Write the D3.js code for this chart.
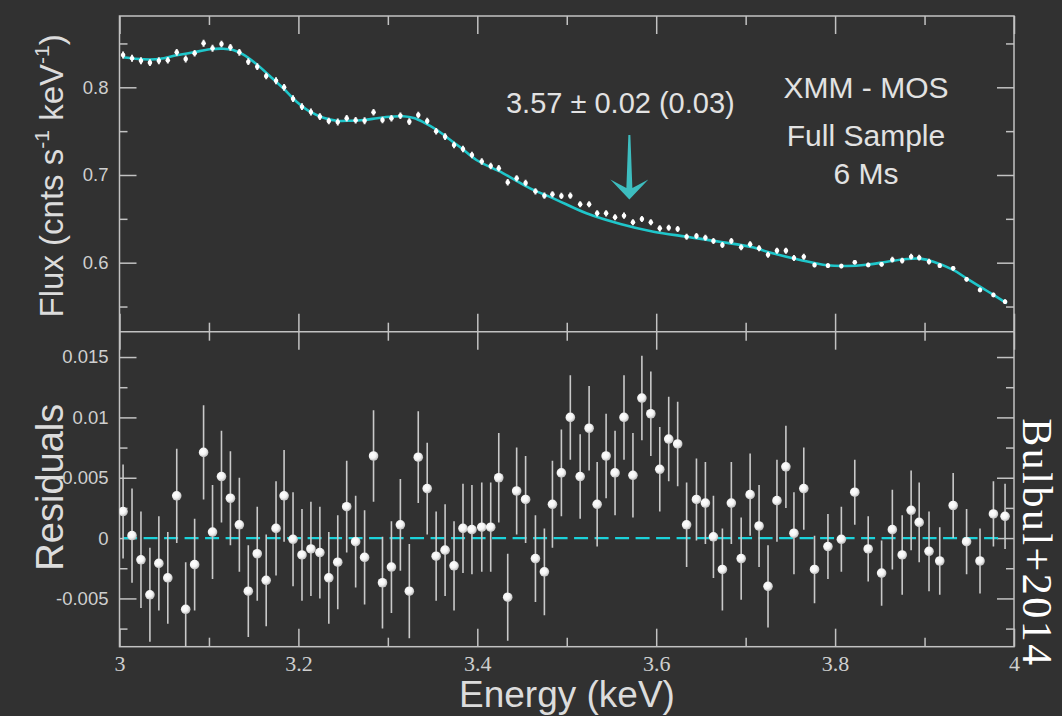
<!DOCTYPE html>
<html>
<head>
<meta charset="utf-8">
<script src="https://cdn.jsdelivr.net/npm/d3@7"></script>
<style>
html, body { margin: 0; padding: 0; background: #313131; }
svg { display: block; }
</style>
</head>
<body>
<svg id="chart"></svg>
<script>
// bin centres (keV)
var energy = [3.004, 3.014, 3.024, 3.034, 3.044, 3.054, 3.064, 3.074, 3.084, 3.094,
	3.104, 3.114, 3.124, 3.134, 3.144, 3.154, 3.164, 3.175, 3.184, 3.194,
	3.204, 3.214, 3.224, 3.234, 3.244, 3.254, 3.264, 3.274, 3.284, 3.294,
	3.304, 3.314, 3.324, 3.334, 3.344, 3.354, 3.364, 3.374, 3.384, 3.394,
	3.405, 3.415, 3.424, 3.434, 3.444, 3.454, 3.465, 3.475, 3.484, 3.494,
	3.504, 3.515, 3.525, 3.534, 3.544, 3.554, 3.564, 3.574, 3.584, 3.594,
	3.604, 3.614, 3.624, 3.634, 3.645, 3.655, 3.664, 3.674, 3.684, 3.695,
	3.705, 3.715, 3.725, 3.735, 3.745, 3.754, 3.765, 3.777, 3.792, 3.807,
	3.822, 3.837, 3.852, 3.864, 3.875, 3.885, 3.894, 3.905, 3.917, 3.932,
	3.947, 3.962, 3.977, 3.990];
// measured flux (cnts/s/keV)
var flux = [0.8368, 0.8331, 0.8303, 0.8281, 0.8303, 0.8308, 0.8399, 0.8323, 0.8388, 0.8502,
	0.8445, 0.8494, 0.8456, 0.8399, 0.8292, 0.8235, 0.8129, 0.8075, 0.8000, 0.7870,
	0.7779, 0.7718, 0.7665, 0.7616, 0.7604, 0.7647, 0.7624, 0.7619, 0.7715, 0.7627,
	0.7647, 0.7676, 0.7608, 0.7684, 0.7616, 0.7498, 0.7437, 0.7342, 0.7296, 0.7228,
	0.7154, 0.7103, 0.7076, 0.6917, 0.6962, 0.6909, 0.6814, 0.6764, 0.6780, 0.6761,
	0.6764, 0.6666, 0.6666, 0.6563, 0.6563, 0.6518, 0.6536, 0.6461, 0.6498, 0.6461,
	0.6392, 0.6399, 0.6384, 0.6296, 0.6304, 0.6285, 0.6247, 0.6202, 0.6247, 0.6176,
	0.6210, 0.6164, 0.6091, 0.6137, 0.6137, 0.6054, 0.6068, 0.5974, 0.5966, 0.5962,
	0.6005, 0.5974, 0.5982, 0.6034, 0.6023, 0.6068, 0.6057, 0.6011, 0.5966, 0.5936,
	0.5811, 0.5689, 0.5632, 0.5555];
// residuals (data - model)
var resid = [0.0022, 0.0002, -0.0018, -0.0047, -0.0021, -0.0033, 0.0035, -0.0059, -0.0022, 0.0071,
	0.0005, 0.0051, 0.0033, 0.0011, -0.0044, -0.0013, -0.0035, 0.0008, 0.0035, -0.0001,
	-0.0014, -0.0009, -0.0012, -0.0033, -0.0020, 0.0026, -0.0003, -0.0016, 0.0068, -0.0037,
	-0.0024, 0.0011, -0.0044, 0.0067, 0.0041, -0.0015, -0.0010, -0.0023, 0.0008, 0.0007,
	0.0009, 0.0009, 0.0050, -0.0049, 0.0039, 0.0032, -0.0017, -0.0028, 0.0028, 0.0054,
	0.0100, 0.0051, 0.0091, 0.0028, 0.0068, 0.0054, 0.0100, 0.0052, 0.0116, 0.0103,
	0.0057, 0.0082, 0.0078, 0.0011, 0.0032, 0.0029, 0.0001, -0.0026, 0.0029, -0.0017,
	0.0036, 0.0010, -0.0040, 0.0031, 0.0059, 0.0004, 0.0041, -0.0026, -0.0007, -0.0001,
	0.0038, -0.0009, -0.0029, 0.0007, -0.0014, 0.0023, 0.0013, -0.0011, -0.0019, 0.0027,
	-0.0003, -0.0019, 0.0020, 0.0018];
// 1 sigma errors
var err = [0.0039, 0.0039, 0.0040, 0.0039, 0.0039, 0.0038, 0.0039, 0.0039, 0.0038, 0.0039,
	0.0039, 0.0038, 0.0039, 0.0039, 0.0038, 0.0039, 0.0038, 0.0039, 0.0038, 0.0039,
	0.0038, 0.0039, 0.0038, 0.0038, 0.0039, 0.0038, 0.0038, 0.0039, 0.0038, 0.0038,
	0.0038, 0.0038, 0.0039, 0.0038, 0.0038, 0.0037, 0.0038, 0.0037, 0.0037, 0.0037,
	0.0037, 0.0037, 0.0037, 0.0036, 0.0036, 0.0036, 0.0036, 0.0036, 0.0036, 0.0036,
	0.0035, 0.0035, 0.0035, 0.0035, 0.0035, 0.0035, 0.0035, 0.0035, 0.0035, 0.0035,
	0.0035, 0.0035, 0.0035, 0.0035, 0.0034, 0.0034, 0.0034, 0.0034, 0.0034, 0.0034,
	0.0034, 0.0034, 0.0034, 0.0034, 0.0034, 0.0034, 0.0034, 0.0028, 0.0027, 0.0027,
	0.0027, 0.0027, 0.0027, 0.0033, 0.0033, 0.0033, 0.0033, 0.0033, 0.0028, 0.0027,
	0.0027, 0.0027, 0.0027, 0.0027];
// best fit model curve
var modelE = [3.004, 3.027, 3.045, 3.064, 3.083, 3.101, 3.116, 3.127, 3.138, 3.153,
	3.168, 3.183, 3.198, 3.213, 3.228, 3.243, 3.258, 3.273, 3.288, 3.302,
	3.317, 3.329, 3.340, 3.355, 3.370, 3.381, 3.399, 3.429, 3.459, 3.485,
	3.522, 3.560, 3.597, 3.634, 3.671, 3.709, 3.724, 3.761, 3.791, 3.813,
	3.835, 3.858, 3.880, 3.895, 3.910, 3.932, 3.947, 3.970, 3.992];
var modelF = [0.8342, 0.8319, 0.8323, 0.8365, 0.8399, 0.8433, 0.8440, 0.8425, 0.8376, 0.8266,
	0.8129, 0.7989, 0.7836, 0.7722, 0.7653, 0.7619, 0.7619, 0.7627, 0.7647, 0.7665,
	0.7669, 0.7650, 0.7601, 0.7513, 0.7399, 0.7316, 0.7171, 0.7019, 0.6848, 0.6734,
	0.6563, 0.6441, 0.6353, 0.6296, 0.6239, 0.6173, 0.6125, 0.6031, 0.5970, 0.5962,
	0.5977, 0.6011, 0.6042, 0.6046, 0.6011, 0.5917, 0.5822, 0.5677, 0.5537];
var lineE = 3.57;
var lineLabel = "3.57 \u00b1 0.02 (0.03)";
var infoLines = ["XMM - MOS", "Full Sample", "6 Ms"];

var xTicks = [3, 3.2, 3.4, 3.6, 3.8, 4];
var xMinor = [3.1, 3.3, 3.5, 3.7, 3.9];
var fluxTicks = [0.6, 0.7, 0.8];
var fluxMinor = [0.55, 0.65, 0.75, 0.85];
var resTicks = [-0.005, 0, 0.005, 0.01, 0.015];
var resMinor = [-0.0075, -0.0025, 0.0025, 0.0075, 0.0125];

var width = 1062, height = 716;
var padL = 119.5, padR = 1014, padT = 16, padM = 331.7, padB = 646.7;
var frameCol = "#c2c2c2", tickCol = "#cfcfcf", cyan = "#1fc6ca";

var svg = d3.select("#chart").attr("width", width).attr("height", height);
svg.append("rect").attr("width", width).attr("height", height).attr("fill", "#313131");

var defs = svg.append("defs");
defs.append("clipPath").attr("id", "clipTop").append("rect")
	.attr("x", padL).attr("y", padT).attr("width", padR - padL).attr("height", padM - padT);
defs.append("clipPath").attr("id", "clipBot").append("rect")
	.attr("x", padL).attr("y", padM).attr("width", padR - padL).attr("height", padB - padM);
var grad = defs.append("radialGradient").attr("id", "ball")
	.attr("cx", "40%").attr("cy", "38%").attr("r", "65%");
grad.append("stop").attr("offset", "0%").attr("stop-color", "#ffffff");
grad.append("stop").attr("offset", "55%").attr("stop-color", "#f4f4f4");
grad.append("stop").attr("offset", "100%").attr("stop-color", "#b8b8b8");

var x = d3.scaleLinear().domain([3, 4]).range([padL, padR]);
var yTop = d3.scaleLinear().domain([0.5213, 0.8813]).range([padM, padT]);
var yRes = d3.scaleLinear().domain([-0.009, 0.0171]).range([padB, padM]);

function styleAxis(g, font, size) {
	g.select(".domain").remove();
	g.attr("font-family", font).attr("font-size", size);
	g.selectAll("line").attr("stroke", frameCol).attr("stroke-width", 1.5);
	g.selectAll("text").attr("fill", tickCol);
}
var fmt = function(d) { return String(d); };

// x ticks
svg.append("g").attr("transform", "translate(0," + padB + ")")
	.call(d3.axisBottom(x).tickValues(xTicks).tickFormat(fmt).tickSize(-18).tickPadding(9))
	.call(styleAxis, "Liberation Serif", 22);
svg.append("g").attr("transform", "translate(0," + padB + ")")
	.call(d3.axisBottom(x).tickValues(xMinor).tickFormat("").tickSize(-9))
	.call(styleAxis, "Liberation Serif", 22);
[[padT, d3.axisTop], [padM, d3.axisBottom], [padM, d3.axisTop]].forEach(function(a) {
	svg.append("g").attr("transform", "translate(0," + a[0] + ")")
		.call(a[1](x).tickValues(xTicks).tickFormat("").tickSize(-18)).call(styleAxis, "sans-serif", 10);
	svg.append("g").attr("transform", "translate(0," + a[0] + ")")
		.call(a[1](x).tickValues(xMinor).tickFormat("").tickSize(-9)).call(styleAxis, "sans-serif", 10);
});

// y ticks
svg.append("g").attr("transform", "translate(" + padL + ",0)")
	.call(d3.axisLeft(yTop).tickValues(fluxTicks).tickFormat(fmt).tickSize(-17).tickPadding(11))
	.call(styleAxis, "Liberation Sans", 18.5);
svg.append("g").attr("transform", "translate(" + padL + ",0)")
	.call(d3.axisLeft(yTop).tickValues(fluxMinor).tickFormat("").tickSize(-8))
	.call(styleAxis, "Liberation Sans", 18.5);
svg.append("g").attr("transform", "translate(" + padL + ",0)")
	.call(d3.axisLeft(yRes).tickValues(resTicks).tickFormat(fmt).tickSize(-17).tickPadding(11))
	.call(styleAxis, "Liberation Sans", 18.5);
svg.append("g").attr("transform", "translate(" + padL + ",0)")
	.call(d3.axisLeft(yRes).tickValues(resMinor).tickFormat("").tickSize(-8))
	.call(styleAxis, "Liberation Sans", 18.5);
[[yTop, fluxTicks, fluxMinor], [yRes, resTicks, resMinor]].forEach(function(a) {
	svg.append("g").attr("transform", "translate(" + padR + ",0)")
		.call(d3.axisRight(a[0]).tickValues(a[1]).tickFormat("").tickSize(-17)).call(styleAxis, "sans-serif", 10);
	svg.append("g").attr("transform", "translate(" + padR + ",0)")
		.call(d3.axisRight(a[0]).tickValues(a[2]).tickFormat("").tickSize(-8)).call(styleAxis, "sans-serif", 10);
});

// frames
svg.append("rect").attr("x", padL).attr("y", padT).attr("width", padR - padL).attr("height", padB - padT)
	.attr("fill", "none").attr("stroke", frameCol).attr("stroke-width", 1.5);
svg.append("line").attr("x1", padL).attr("x2", padR).attr("y1", padM).attr("y2", padM)
	.attr("stroke", frameCol).attr("stroke-width", 1.5);

var data = energy.map(function(e, i) {
	return { e: e, f: flux[i], r: resid[i], s: err[i] };
});

// top panel
var topG = svg.append("g").attr("clip-path", "url(#clipTop)");
topG.append("path")
	.datum(modelE.map(function(e, i) { return [e, modelF[i]]; }))
	.attr("fill", "none").attr("stroke", cyan).attr("stroke-width", 2.6)
	.attr("d", d3.line().x(function(d) { return x(d[0]); }).y(function(d) { return yTop(d[1]); })
		.curve(d3.curveCatmullRom.alpha(0.5)));
topG.selectAll("line.eb").data(data).enter().append("line").attr("class", "eb")
	.attr("x1", function(d) { return x(d.e); }).attr("x2", function(d) { return x(d.e); })
	.attr("y1", function(d) { return yTop(d.f - d.s); }).attr("y2", function(d) { return yTop(d.f + d.s); })
	.attr("stroke", "#f2f2f2").attr("stroke-width", 2);
topG.selectAll("circle").data(data).enter().append("circle")
	.attr("cx", function(d) { return x(d.e); }).attr("cy", function(d) { return yTop(d.f); })
	.attr("r", 2.3).attr("fill", "#ffffff");

// line annotation
var ax = x(lineE);
svg.append("path")
	.attr("d", "M" + (ax - 1) + ",135 L" + (ax + 1) + ",135 L" + (ax + 3) + ",188 L" + (ax + 19) + ",179.5 L" + ax +
		",199.5 L" + (ax - 19) + ",179.5 L" + (ax - 3) + ",188 Z")
	.attr("fill", "#3dbdbf");
svg.append("text").attr("x", ax - 9).attr("y", 113).attr("text-anchor", "middle")
	.attr("font-family", "Liberation Sans").attr("font-size", 29).attr("fill", "#e2e2e2")
	.text(lineLabel);
svg.selectAll("text.info").data(infoLines).enter().append("text").attr("class", "info")
	.attr("x", 866).attr("y", function(d, i) { return [97.5, 145.5, 184][i]; })
	.attr("text-anchor", "middle").attr("font-family", "Liberation Sans").attr("font-size", 30)
	.attr("fill", "#e2e2e2").text(function(d) { return d; });

// residual panel
var botG = svg.append("g").attr("clip-path", "url(#clipBot)");
botG.append("line")
	.attr("x1", x(energy[0])).attr("x2", x(energy[energy.length - 1]))
	.attr("y1", yRes(0)).attr("y2", yRes(0))
	.attr("stroke", "#1cd2da").attr("stroke-width", 2.4).attr("stroke-dasharray", "14,6.5");
botG.selectAll("line.eb").data(data).enter().append("line").attr("class", "eb")
	.attr("x1", function(d) { return x(d.e); }).attr("x2", function(d) { return x(d.e); })
	.attr("y1", function(d) { return yRes(d.r - d.s); }).attr("y2", function(d) { return yRes(d.r + d.s); })
	.attr("stroke", "#c9c9c9").attr("stroke-width", 1.6);
botG.selectAll("circle").data(data).enter().append("circle")
	.attr("cx", function(d) { return x(d.e); }).attr("cy", function(d) { return yRes(d.r); })
	.attr("r", 4.8).attr("fill", "url(#ball)");

// axis titles
svg.append("text").attr("x", 567).attr("y", 707).attr("text-anchor", "middle")
	.attr("font-family", "Liberation Sans").attr("font-size", 37).attr("fill", "#dcdcdc")
	.text("Energy (keV)");
var fl = svg.append("text").attr("transform", "translate(63," + ((padT + padM) / 2 + 2) + ") rotate(-90)")
	.attr("text-anchor", "middle").attr("font-family", "Liberation Sans").attr("font-size", 33).attr("fill", "#dcdcdc");
fl.append("tspan").text("Flux (cnts s");
fl.append("tspan").attr("font-size", 21).attr("dy", -14).text("-1");
fl.append("tspan").attr("dy", 14).text(" keV");
fl.append("tspan").attr("font-size", 21).attr("dy", -14).text("-1");
fl.append("tspan").attr("dy", 14).text(")");
svg.append("text").attr("transform", "translate(63," + ((padM + padB) / 2 - 2) + ") rotate(-90)")
	.attr("text-anchor", "middle").attr("font-family", "Liberation Sans").attr("font-size", 38).attr("fill", "#dcdcdc")
	.text("Residuals");
svg.append("text").attr("transform", "translate(1023,543) rotate(90)")
	.attr("text-anchor", "middle").attr("font-family", "Liberation Serif").attr("font-size", 42)
	.attr("letter-spacing", 2.5).attr("fill", "#ffffff")
	.text("Bulbul+2014");
</script>
</body>
</html>
